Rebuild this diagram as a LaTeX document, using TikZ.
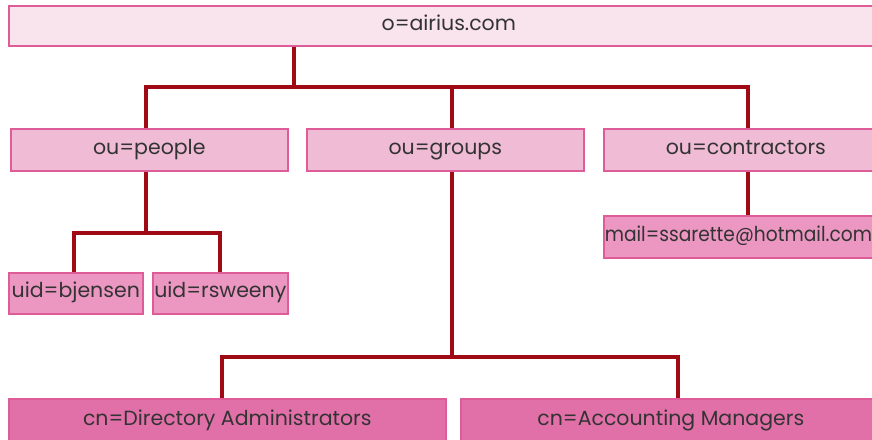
\documentclass[tikz,border=0pt]{standalone}
\usepackage{fontspec}
\setmainfont{Poppins}
\newfontfamily\narrowface{Poppins}[FakeStretch=0.91]
\usetikzlibrary{backgrounds}
\definecolor{linkred}{HTML}{A00A14}
\definecolor{edge}{HTML}{DE5C98}
\definecolor{rootfill}{HTML}{F9E3EC}
\definecolor{oufill}{HTML}{F0BBD5}
\definecolor{leaffill}{HTML}{EC97C2}
\definecolor{cnfill}{HTML}{E270A8}
\tikzset{
  entry/.style={draw=edge, line width=1.6pt, inner sep=0pt, anchor=north west,
    text=black!80, font=\fontsize{20.5}{22}\selectfont,
    text height=1em, text depth=0.1em},
  rootbox/.style={entry, fill=rootfill},
  oubox/.style={entry, fill=oufill},
  leafbox/.style={entry, fill=leaffill},
  cnbox/.style={entry, fill=cnfill},
  link/.style={draw=linkred, line width=4.6pt, line join=miter},
}
\begin{document}
\begin{tikzpicture}[x=1pt,y=-1pt]
\useasboundingbox (0,0) rectangle (872,439);
\clip (0,0) rectangle (872,439);
% directory entries
\node[rootbox, minimum width=880pt, minimum height=40pt] (root) at (8,5) {o=airius.com};
\node[oubox, minimum width=277pt, minimum height=42pt] (people) at (10,128) {ou=people};
\node[oubox, minimum width=277pt, minimum height=42pt] (groups) at (306,128) {ou=groups};
\node[oubox, minimum width=284pt, minimum height=42pt] (contractors) at (603,128) {ou=contractors};
\node[leafbox, minimum width=284pt, minimum height=42pt] (mail) at (603,215)
  {\makebox[284pt][l]{\hspace{1pt}\narrowface mail=ssarette@hotmail.com}};
\node[leafbox, minimum width=134pt, minimum height=41pt] (bjensen) at (8,272) {uid=bjensen};
\node[leafbox, minimum width=135pt, minimum height=41pt] (rsweeny) at (152,272) {uid=rsweeny};
\node[cnbox, minimum width=437pt, minimum height=44pt] (admins) at (8,398) {cn=Directory Administrators};
\node[cnbox, minimum width=420pt, minimum height=44pt] (managers) at (460,398) {cn=Accounting Managers};
% branch points
\coordinate (topbar) at (294,87);
\coordinate (gdrop) at (452,87);
\coordinate (pbar) at (146,233);
\coordinate (gbar) at (452,357);
\coordinate (bj) at (74,0);
\coordinate (rs) at (220,0);
\coordinate (da) at (222,0);
\coordinate (am) at (678,0);
\coordinate (cx) at (748,0);
\begin{scope}[on background layer]
\draw[link] (root.south -| topbar) -- (topbar);
\draw[link] (people.north -| pbar) |- (topbar) -| (contractors.north -| cx);
\draw[link] (gdrop) -- (groups.north -| gdrop);
\draw[link] (people.south -| pbar) -- (pbar);
\draw[link] (bjensen.north -| bj) |- (pbar) -| (rsweeny.north -| rs);
\draw[link] (contractors.south -| cx) -- (mail.north -| cx);
\draw[link] (groups.south -| gbar) -- (gbar);
\draw[link] (admins.north -| da) |- (gbar) -| (managers.north -| am);
\end{scope}
\end{tikzpicture}
\end{document}
